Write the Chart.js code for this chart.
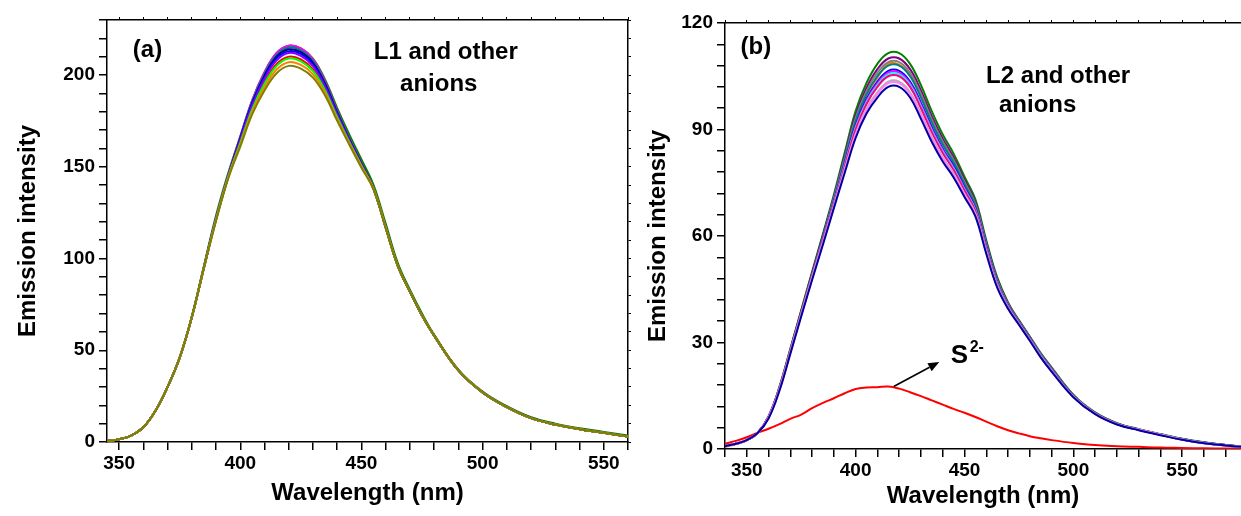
<!DOCTYPE html>
<html>
<head>
<meta charset="utf-8">
<script src="https://cdn.jsdelivr.net/npm/chart.js@4.4.1/dist/chart.umd.min.js"></script>
<style>
  html, body { margin: 0; padding: 0; background: #fff; overflow: hidden; }
  #wrap { position: relative; width: 1241px; height: 516px; }
  #left { position: absolute; left: 0; top: 0; }
  #right { position: absolute; left: 632px; top: 0; }
</style>
</head>
<body>
<div id="wrap">
  <canvas id="left" width="632" height="516"></canvas>
  <canvas id="right" width="609" height="516"></canvas>
</div>
<script>
const FONT = "'Liberation Sans', Arial, sans-serif";

// ---- panel (a): L1 with other anions ----
const wlA = [345, 350, 355, 360, 365, 370, 375, 380, 385, 390, 395, 400, 405, 410, 415, 420, 425, 430,
  435, 440, 445, 450, 455, 460, 465, 470, 475, 480, 490, 500, 510, 520, 530, 540, 550, 560];

const a_olive   = [0.5, 1.5, 3.5, 8, 17, 30, 46, 68, 95, 120.5, 143.5, 161, 178.8, 191.6, 201, 205, 203.5, 198.6, 188.8, 175, 162, 149.5, 137.5, 116.5, 96, 82, 69, 58, 39, 27, 19, 13, 9.5, 7, 5, 3];
const a_orange  = [0.5, 1.5, 3.5, 8, 17, 30, 46, 68, 95, 121, 144, 162, 180.2, 193.4, 203, 207, 205.5, 200.4, 190.2, 176, 162.8, 150.2, 138, 117, 96, 82, 69, 58, 39, 27, 19, 13, 9.5, 7, 5, 3];
const a_lime    = [0.5, 1.5, 3.5, 8, 17, 30, 46, 68, 95, 121.5, 144.5, 163, 181.6, 195.2, 205, 209, 207.5, 202.2, 191.6, 177, 163.4, 150.6, 138, 117, 96, 82, 69, 58, 39, 27, 19, 13, 9.5, 7, 5, 3];
const a_purple  = [0.5, 1.5, 3.5, 8, 17, 30, 46, 68, 95, 121.5, 144.5, 164.5, 183.7, 197.9, 208, 212, 210.5, 204.9, 193.7, 178.5, 164.3, 151.2, 138, 117, 96, 82, 69, 58, 39, 27, 19, 13, 9.5, 7, 5, 3];
const a_blue    = [0.5, 1.5, 3.5, 8, 17, 30, 46, 68, 95, 121.5, 144.5, 165, 184.4, 198.8, 209, 213, 211.5, 205.8, 194.4, 179, 164.6, 151.4, 138, 117, 96, 82, 69, 58, 39, 27, 19, 13, 9.5, 7, 5, 3];
const a_navy    = [0.5, 1.5, 3.5, 8, 17, 30, 46, 68, 95, 121.5, 144.5, 165.5, 185.1, 199.7, 210, 214, 212.5, 206.7, 195.1, 179.5, 164.9, 151.6, 138, 117, 96, 82, 69, 58, 39, 27, 19, 13, 9.5, 7, 5, 3];
const a_teal    = [0.5, 1.5, 3.5, 8, 17, 30, 46, 68, 95.5, 122, 145, 166, 185.8, 200.6, 211, 215, 213.5, 207.6, 195.8, 180, 165.2, 151.8, 138.2, 117.2, 96.2, 82, 69, 58, 39, 27, 19, 13, 9.5, 7, 5, 3];
const a_magenta = [0.5, 1.5, 3.5, 8, 17, 30, 46, 68, 95.5, 122.5, 145.5, 166.5, 186.5, 201.5, 212, 216, 214.5, 208.5, 196.5, 180.5, 165.5, 152, 138.5, 117, 96, 82, 69, 58, 39, 27, 19, 13, 9.5, 7, 5, 3];
const a_red     = [0.5, 1.5, 3.5, 8, 17, 30, 46, 68, 95, 121.5, 144.5, 163.5, 182.3, 196.1, 206, 210, 208.5, 203.1, 192.3, 177.5, 163.7, 150.8, 138, 117, 96, 82, 69, 58, 39, 27, 19, 13, 9.5, 7, 5, 3];
const a_green   = [0.5, 1.5, 3.5, 8, 17, 30, 46, 68.5, 96, 123.5, 146.5, 166.5, 186.5, 201.5, 212, 216, 214.5, 209, 197.5, 182, 167.5, 154, 140, 119, 97.5, 83, 70, 58.5, 39.5, 27.5, 19.5, 13.5, 10, 7.5, 5.5, 3.5];

// ---- panel (b): L2 with other anions, and S2- ----
const wlB = [340, 345, 350, 355, 360, 365, 370, 375, 380, 385, 390, 395, 400, 405, 410, 415, 420, 425, 430,
  435, 440, 445, 450, 455, 460, 465, 470, 475, 480, 485, 490, 500, 510, 520, 530, 540, 550, 560, 570, 577];

const b_navy     = [0.8, 1.5, 2.5, 4.5, 8.6, 16.4, 26.8, 37.3, 47.6, 57.6, 67.8, 77.8, 87.6, 94.5, 99, 102, 102, 99, 93, 86.5, 81, 76.5, 71, 65.5, 55, 45.5, 39.5, 35, 30.5, 25.8, 21.8, 14.6, 9.8, 6.9, 5.3, 3.9, 2.6, 1.6, 1, 0.6];
const b_violet   = [0.8, 1.5, 2.5, 4.5, 8.8, 16.6, 27.1, 37.7, 48.1, 58.1, 68.2, 78.4, 88.4, 95.4, 100, 103, 103, 100, 94, 87.4, 81.8, 77.2, 71.6, 66, 55.4, 45.8, 39.7, 35.1, 30.6, 25.9, 21.9, 14.7, 9.9, 7, 5.4, 4, 2.7, 1.7, 1, 0.6];
const b_ltgray   = [0.8, 1.5, 2.5, 4.5, 8.8, 16.7, 27.2, 37.8, 48.2, 58.2, 68.4, 78.7, 88.8, 95.9, 100.5, 103.5, 103.5, 100.5, 94.5, 87.9, 82.2, 77.6, 71.9, 66.3, 55.6, 46, 39.8, 35.2, 30.7, 26, 22, 14.7, 9.9, 7, 5.4, 4, 2.7, 1.7, 1, 0.6];
const b_pink     = [0.8, 1.5, 2.5, 4.5, 9, 17, 27.5, 38, 48.5, 58.7, 69, 79.6, 90, 97.2, 102, 105, 105, 102, 96, 89.2, 83.4, 78.6, 72.8, 67, 56.2, 46.4, 40, 35.4, 30.9, 26.2, 22.2, 14.8, 10, 7, 5.4, 4, 2.7, 1.7, 1, 0.6];
const b_cyan     = [0.8, 1.5, 2.5, 4.5, 9, 17, 27.5, 38, 48.5, 58.8, 69.2, 79.9, 90.4, 97.7, 102.5, 105.5, 105.5, 102.5, 96.5, 89.7, 83.8, 79, 73.1, 67.3, 56.4, 46.6, 40.1, 35.5, 31, 26.3, 22.3, 14.8, 10, 7, 5.4, 4, 2.7, 1.7, 1, 0.6];
const b_magenta  = [0.8, 1.5, 2.5, 4.5, 9, 17, 27.5, 38, 48.5, 58.9, 69.4, 80.2, 90.8, 98.1, 103, 106, 106, 103, 97, 90.1, 84.2, 79.3, 73.4, 67.5, 56.6, 46.7, 40.2, 35.5, 31, 26.3, 22.3, 14.8, 10, 7, 5.4, 4, 2.7, 1.7, 1, 0.6];
const b_blue     = [0.8, 1.5, 2.5, 4.5, 9, 17, 27.5, 38, 48.5, 59, 69.6, 80.5, 91.2, 98.6, 103.5, 106.5, 106.5, 103.5, 97.5, 90.6, 84.6, 79.7, 73.7, 67.8, 56.8, 46.9, 40.3, 35.6, 31.1, 26.4, 22.4, 14.9, 10, 7, 5.4, 4, 2.7, 1.7, 1, 0.6];
const b_teal     = [0.8, 1.5, 2.5, 4.5, 9, 17, 27.6, 38.2, 48.8, 59.4, 70.2, 81.4, 92.4, 99.9, 105, 108, 108, 105, 99, 91.9, 85.8, 80.7, 74.6, 68.5, 57.4, 47.3, 40.6, 35.8, 31.3, 26.6, 22.6, 15, 10.1, 7.1, 5.5, 4.1, 2.8, 1.8, 1.1, 0.7];
const b_gray     = [0.8, 1.5, 2.5, 4.5, 9, 17, 27.6, 38.3, 48.9, 59.6, 70.6, 82, 93.2, 100.8, 106, 109, 109, 106, 100, 92.8, 86.6, 81.4, 75.2, 69, 57.8, 47.6, 40.8, 36, 31.4, 26.7, 22.7, 15.1, 10.1, 7.1, 5.5, 4.1, 2.8, 1.8, 1.1, 0.7];
const b_purple   = [0.8, 1.5, 2.5, 4.5, 9, 17.2, 27.9, 38.7, 49.4, 60.1, 71, 82.6, 94, 101.7, 107, 110, 110, 107, 101, 93.7, 87.4, 82.1, 75.8, 69.5, 58.2, 47.9, 41, 36.1, 31.5, 26.8, 22.8, 15.1, 10.2, 7.2, 5.5, 4.1, 2.8, 1.8, 1.1, 0.7];
const b_green    = [0.8, 1.5, 2.5, 4.6, 9.2, 17.5, 28.2, 39.1, 49.9, 60.6, 71.6, 83.5, 95.2, 103.1, 108.5, 111.5, 111.5, 108.5, 102.5, 95.1, 88.6, 83.2, 76.7, 70.3, 58.8, 48.4, 41.3, 36.3, 31.7, 27, 23, 15.3, 10.3, 7.3, 5.6, 4.2, 2.9, 1.9, 1.1, 0.7];
const b_orange   = [0.6, 1.3, 2.4, 4.5, 9.1, 17.4, 28.1, 38.9, 49.6, 60.2, 70.8, 81.7, 92.6, 99.8, 104.6, 108.5, 108.3, 105.5, 99.5, 92.4, 86.2, 81.1, 74.9, 68.8, 57.6, 47.5, 40.8, 36, 31.4, 26.7, 22.7, 15.1, 10.1, 7.1, 5.5, 4.1, 2.8, 1.8, 1.1, 0.7];
const b_sulfide  = [1.5, 2.3, 3.3, 4.6, 5.7, 7, 8.5, 9.7, 11.5, 13, 14.3, 15.7, 16.9, 17.3, 17.4, 17.6, 17, 16, 14.9, 13.7, 12.5, 11.3, 10.2, 9, 7.7, 6.4, 5.3, 4.4, 3.6, 3, 2.5, 1.7, 1.1, 0.8, 0.6, 0.4, 0.3, 0.2, 0.15, 0.1];

// draw order: last one ends up on top
const seriesA = [
  ['#808000', a_olive], ['#ff8000', a_orange], ['#00ff00', a_lime], ['#8000ff', a_purple],
  ['#0000ff', a_blue], ['#000080', a_navy], ['#008080', a_teal], ['#ff00ff', a_magenta],
  ['#ff0000', a_red], ['#008000', a_green],
];
const seriesB = [
  ['#0000a0', b_navy], ['#ff80ff', b_violet], ['#b0b0b0', b_ltgray], ['#ff0080', b_pink],
  ['#00ffff', b_cyan], ['#ff00ff', b_magenta], ['#0000ff', b_blue], ['#008080', b_teal],
  ['#808080', b_gray], ['#800080', b_purple], ['#008000', b_green], ['#ff8000', b_orange],
  ['#ff0000', b_sulfide],
];

function toDatasets(wl, list) {
  return list.map(([color, vals]) => ({
    data: wl.map((x, i) => ({ x, y: vals[i] })),
    borderColor: color,
    borderWidth: 2,
    pointRadius: 0,
    fill: false,
    tension: 0.4,
  }));
}

// text labels, arrow — placed in data units
const notesPlugin = {
  id: 'notes',
  afterDatasetsDraw(chart, args, opts) {
    const { ctx, scales: { x, y } } = chart;
    ctx.save();
    ctx.fillStyle = '#000';
    ctx.textBaseline = 'alphabetic';
    for (const t of opts.texts || []) {
      ctx.font = `bold ${t.size}px ${FONT}`;
      ctx.textAlign = t.align || 'center';
      ctx.fillText(t.text, x.getPixelForValue(t.x), y.getPixelForValue(t.y));
    }
    if (opts.arrow) {
      const [x0, y0, x1, y1] = opts.arrow;
      const px0 = x.getPixelForValue(x0), py0 = y.getPixelForValue(y0);
      const px1 = x.getPixelForValue(x1), py1 = y.getPixelForValue(y1);
      const ang = Math.atan2(py1 - py0, px1 - px0);
      const hl = 11, hw = 4.5;
      ctx.strokeStyle = '#000';
      ctx.lineWidth = 1.6;
      ctx.beginPath();
      ctx.moveTo(px0, py0);
      ctx.lineTo(px1 - hl * Math.cos(ang), py1 - hl * Math.sin(ang));
      ctx.stroke();
      ctx.beginPath();
      ctx.moveTo(px1, py1);
      ctx.lineTo(px1 - hl * Math.cos(ang) + hw * Math.sin(ang), py1 - hl * Math.sin(ang) - hw * Math.cos(ang));
      ctx.lineTo(px1 - hl * Math.cos(ang) - hw * Math.sin(ang), py1 - hl * Math.sin(ang) + hw * Math.cos(ang));
      ctx.closePath();
      ctx.fill();
    }
    ctx.restore();
  },
};

function makeChart(el, p) {
  const tickFont = { family: FONT, size: 19, weight: 'bold' };
  const titleFont = { family: FONT, size: 24, weight: 'bold' };
  const axisLine = { display: true, color: '#000', width: 1.5 };
  const scales = {
    x: {
      type: 'linear', position: 'bottom', min: p.xMin, max: p.xMax,
      afterFit: (s) => { s.height = p.bottomH; },
      ticks: {
        stepSize: 10, includeBounds: false, autoSkip: false, maxRotation: 0,
        color: '#000', font: tickFont, padding: 2,
        callback: (v) => (v % 50 === 0 ? v : ''),
      },
      grid: { drawOnChartArea: false, drawTicks: true, tickLength: 8, color: '#000', lineWidth: 1.5 },
      border: axisLine,
      title: { display: true, text: 'Wavelength (nm)', color: '#000', font: titleFont, padding: { top: 0, bottom: p.xTitlePad } },
    },
    x2: {
      type: 'linear', position: 'top', min: p.xMin, max: p.xMax,
      afterFit: (s) => { s.height = p.topH; },
      ticks: { display: false, stepSize: 10, includeBounds: false },
      grid: { drawOnChartArea: false, drawTicks: true, tickLength: 3, color: '#000', lineWidth: 1 },
      border: axisLine,
    },
    y: {
      type: 'linear', position: 'left', min: 0, max: p.yMax,
      afterFit: (s) => { s.width = p.leftW; },
      ticks: {
        stepSize: p.yStep, autoSkip: false, color: '#000', font: tickFont, padding: 4,
        callback: (v) => (v % p.yLabelEvery === 0 ? v : ''),
      },
      grid: { drawOnChartArea: false, drawTicks: true, tickLength: 8, color: '#000', lineWidth: 1.5 },
      border: axisLine,
      title: { display: true, text: 'Emission intensity', color: '#000', font: titleFont, padding: { top: p.yTitlePad, bottom: 0 } },
    },
  };
  if (p.rightAxis) {
    scales.y2 = {
      type: 'linear', position: 'right', min: 0, max: p.yMax,
      afterFit: (s) => { s.width = p.rightW; },
      ticks: { display: false, stepSize: p.yStep },
      grid: { drawOnChartArea: false, drawTicks: true, tickLength: 3, color: '#000', lineWidth: 1 },
      border: axisLine,
    };
  }
  return new Chart(el, {
    type: 'line',
    data: { datasets: p.datasets },
    options: {
      responsive: false,
      animation: false,
      devicePixelRatio: 1,
      layout: { padding: 0 },
      scales,
      plugins: {
        legend: { display: false },
        tooltip: { enabled: false },
        notes: p.notes,
      },
    },
    plugins: [notesPlugin],
  });
}

makeChart(document.getElementById('left'), {
  datasets: toDatasets(wlA, seriesA),
  xMin: 345, xMax: 560, yMax: 230, yStep: 10, yLabelEvery: 50,
  leftW: 107, rightW: 4, topH: 20, bottomH: 74, rightAxis: true,
  xTitlePad: 8, yTitlePad: 14,
  notes: {
    texts: [
      { text: '(a)', x: 361.7, y: 209.8, size: 24 },
      { text: 'L1 and other', x: 484.8, y: 208.7, size: 24 },
      { text: 'anions', x: 481.9, y: 191.3, size: 24 },
    ],
  },
});

makeChart(document.getElementById('right'), {
  datasets: toDatasets(wlB, seriesB),
  xMin: 340, xMax: 577, yMax: 120, yStep: 6, yLabelEvery: 30,
  leftW: 93, rightW: 0, topH: 23, bottomH: 67, rightAxis: false,
  xTitlePad: 5, yTitlePad: 12,
  notes: {
    texts: [
      { text: '(b)', x: 354.2, y: 111.3, size: 24 },
      { text: 'L2 and other', x: 493, y: 103.1, size: 24 },
      { text: 'anions', x: 483.6, y: 94.9, size: 24 },
      { text: 'S', x: 443.7, y: 24.2, size: 26, align: 'left' },
      { text: '2-', x: 452.4, y: 27.3, size: 16, align: 'left' },
    ],
    arrow: [417.5, 17.6, 438.4, 24.5],
  },
});
</script>
</body>
</html>
